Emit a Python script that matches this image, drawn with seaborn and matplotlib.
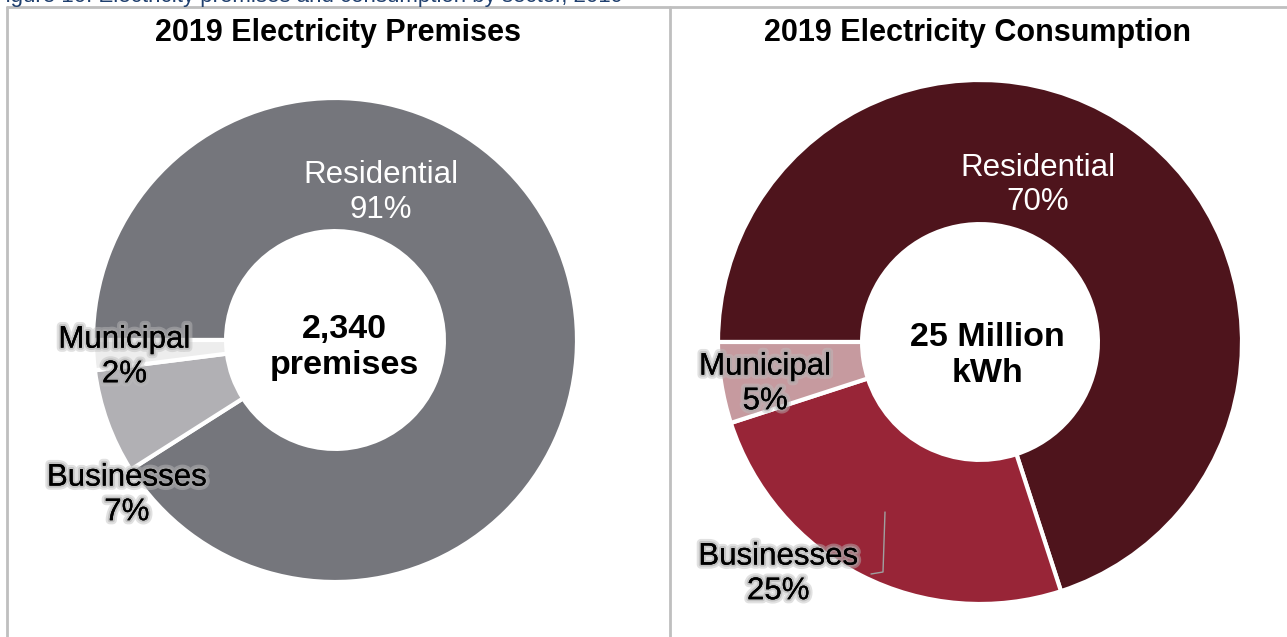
import matplotlib
matplotlib.use("Agg")
import matplotlib.pyplot as plt
import matplotlib.patheffects as pe
from matplotlib.lines import Line2D
import seaborn as sns

# ---- data ----
sectors = ["Residential", "Businesses", "Municipal"]
premises_pct = [91, 7, 2]
consumption_pct = [70, 25, 5]
premises_colors = ["#75767C", "#B1B0B4", "#EDEDED"]
consumption_colors = ["#4E141C", "#982537", "#C69A9F"]
titles = ["2019 Electricity Premises", "2019 Electricity Consumption"]
centre_texts = ["2,340\npremises", "25 Million\nkWh"]
caption = "Figure 10: Electricity premises and consumption by sector, 2019"

sns.set_style("white")
plt.rcParams["font.family"] = ["Liberation Sans", "DejaVu Sans"]
plt.rcParams["text.color"] = "black"

W, H = 1287, 637
fig = plt.figure(figsize=(W / 100, H / 100), dpi=100)
fig.patch.set_facecolor("white")


def px_axes(cx, cy, r):
    return fig.add_axes([(cx - r) / W, (H - cy - r) / H, 2 * r / W, 2 * r / H])


glow = [pe.withStroke(linewidth=6, foreground="#bdbdbd", alpha=0.45),
        pe.withStroke(linewidth=3, foreground="#a8a8a8", alpha=0.5), pe.Normal()]

panels = [
    dict(cx=335, cy=340, r=242, vals=premises_pct, cols=premises_colors,
         lab_pos=[(0.19, 0.61), (-0.86, -0.64), (-0.87, -0.07)],
         lab_col=["white", "black", "black"], centre=(0.04, -0.03)),
    dict(cx=980, cy=342, r=262, vals=consumption_pct, cols=consumption_colors,
         lab_pos=[(0.22, 0.60), (-0.77, -0.885), (-0.82, -0.16)],
         lab_col=["white", "black", "black"], centre=(0.03, -0.05)),
]

for i, p in enumerate(panels):
    ax = px_axes(p["cx"], p["cy"], p["r"])
    ax.pie(p["vals"], colors=p["cols"], startangle=180, counterclock=False,
           radius=1.0, wedgeprops=dict(width=0.55, edgecolor="white", linewidth=3))
    ax.set_xlim(-1, 1)
    ax.set_ylim(-1, 1)
    ax.set_aspect("equal")
    ax.axis("off")
    for name, v, (x, y), c in zip(sectors, p["vals"], p["lab_pos"], p["lab_col"]):
        t = ax.text(x, y, f"{name}\n{v}%", ha="center", va="center", color=c,
                    fontsize=22.5, linespacing=1.2, clip_on=False)
        if c == "black":
            t.set_path_effects(glow)
    ax.text(p["centre"][0], p["centre"][1], centre_texts[i], ha="center", va="center",
            fontsize=24.5, fontweight="bold", linespacing=1.2, color="black")

# titles
for x, t in zip([338, 977], titles):
    fig.text(x / W, 1 - 33 / H, t, ha="center", va="center", fontsize=22,
             fontweight="bold", color="black",
             family=["Liberation Sans Narrow", "Liberation Sans", "DejaVu Sans"])

# caption (clipped at top)
fig.text(-8 / W, 1 - 2 / H, caption, ha="left", va="baseline", fontsize=16, color="#1F3F6E")

# frame lines
fc = "#BFBFBF"
fig.add_artist(Line2D([7 / W, 1], [1 - 7 / H, 1 - 7 / H], color=fc, lw=2))
fig.add_artist(Line2D([7 / W, 7 / W], [0, 1 - 7 / H], color=fc, lw=2))
fig.add_artist(Line2D([670 / W, 670 / W], [0, 1 - 7 / H], color=fc, lw=2))

# small leader line near Businesses (consumption)
fig.add_artist(Line2D([885 / W, 883 / W, 871 / W], [1 - 512 / H, 1 - 572 / H, 1 - 574 / H],
                      color="#A0A0A0", lw=1))

fig.savefig("out.png", dpi=100, facecolor="white")
